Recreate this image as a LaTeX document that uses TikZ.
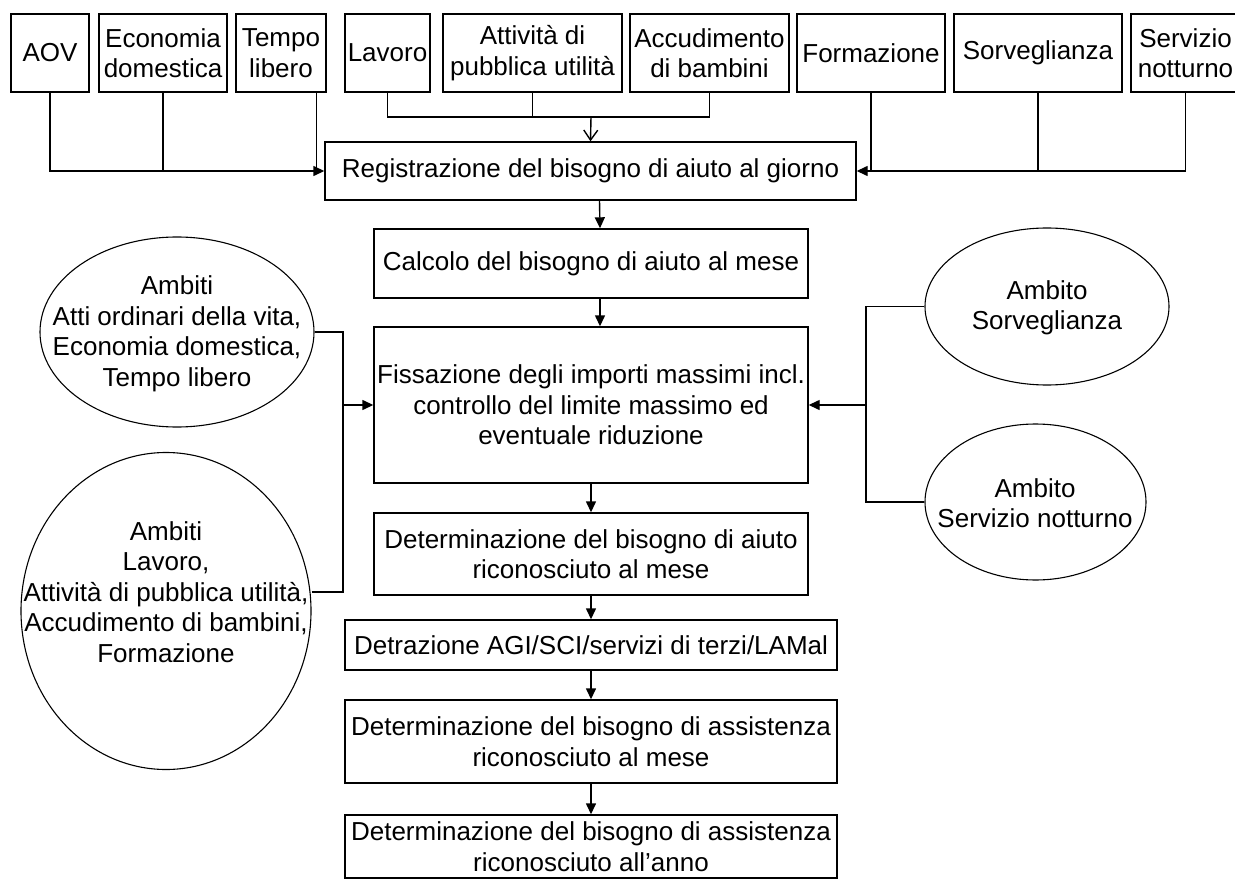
\documentclass[tikz,border=0pt]{standalone}
\usepackage{fontspec}
\setmainfont{Liberation Sans}
\usetikzlibrary{shapes.geometric,arrows.meta}

\begin{document}
\begin{tikzpicture}[x=1pt,y=-1pt,line width=1.4pt,
    font=\fontsize{26}{30.5}\selectfont,
    boite/.style={draw,rectangle,inner sep=0pt,align=center},
    haut/.style={boite,minimum height=78pt},
    ambito/.style={draw,ellipse,inner sep=0pt,line width=1.1pt},
    texte/.style={align=center,inner sep=0pt},
    fleche/.style={-{Triangle[length=11pt,width=10pt]}},
    ouverte/.style={-{Straight Barb[length=10pt,width=14pt]}}]

    \useasboundingbox (0,0) rectangle (1235,880);

    % Domaines (ligne du haut)
    \node[haut,minimum width=78pt] (aov) at (50,53) {AOV};
    \node[haut,minimum width=128pt] (eco) at (163,53) {Economia\\domestica};
    \node[haut,minimum width=90pt] (tempo) at (281,53) {Tempo\\libero};
    \node[haut,minimum width=85pt] (lav) at (387.5,53) {Lavoro};
    \node[haut,minimum width=179pt] (att) at (532.5,53) {Attività di\\pubblica utilità};
    \node[haut,minimum width=159pt] (acc) at (709.5,53) {Accudimento\\di bambini};
    \node[haut,minimum width=148pt] (form) at (871,53) {Formazione};
    \node[haut,minimum width=168pt] (sorv) at (1038,53) {Sorveglianza};
    \node[haut,minimum width=109pt] (serv) at (1185.5,53) {Servizio\\notturno};

    % Etapes du calcul
    \node[boite,minimum width=531pt,minimum height=58pt] (reg) at (590.5,171) {Registrazione del bisogno di aiuto al giorno};
    \node[boite,minimum width=434pt,minimum height=69pt] (calc) at (591,263.5) {Calcolo del bisogno di aiuto al mese};
    \node[boite,minimum width=434pt,minimum height=156pt] (fiss) at (591,405) {Fissazione degli importi massimi incl.\\controllo del limite massimo ed\\eventuale riduzione};
    \node[boite,minimum width=434pt,minimum height=82pt] (detA) at (591,554) {Determinazione del bisogno di aiuto\\riconosciuto al mese};
    \node[boite,minimum width=492pt,minimum height=50pt] (detr) at (591,645) {Detrazione AGI/SCI/servizi di terzi/LAMal};
    \node[boite,minimum width=492pt,minimum height=83pt] (assM) at (591,741.5) {Determinazione del bisogno di assistenza\\riconosciuto al mese};
    \node[boite,minimum width=492pt,minimum height=63pt] (assA) at (591,846.5) {Determinazione del bisogno di assistenza\\riconosciuto all’anno};

    % Ambiti
    \node[ambito,minimum width=274pt,minimum height=190pt] (ambA) at (177,332) {};
    \node[texte] (ambAt) at (177,334) {Ambiti\\Atti ordinari della vita,\\Economia domestica,\\Tempo libero};
    \node[ambito,minimum width=290pt,minimum height=317pt] (ambB) at (166,611) {};
    \node[texte] (ambBt) at (166,592) {Ambiti\\Lavoro,\\Attività di pubblica utilità,\\Accudimento di bambini,\\Formazione};
    \node[ambito,minimum width=244pt,minimum height=157pt] (ambS) at (1047,306.5) {};
    \node[texte] (ambSt) at (1047,308) {Ambito\\Sorveglianza};
    \node[ambito,minimum width=221pt,minimum height=156pt] (ambN) at (1035.5,502) {};
    \node[texte] (ambNt) at (1035,503) {Ambito\\Servizio notturno};

    % Ligne du haut vers la registrazione
    \coordinate (tl) at ([xshift=-10pt]tempo.south east);
    \draw[fleche] (aov.south) |- (reg.west);
    \draw (eco.south) -- (eco.south |- reg.west);
    \draw (tl) -- (tl |- reg.west);
    \coordinate (jT) at (591,117);
    \draw (lav.south) |- (jT) -| (acc.south);
    \draw (att.south) -- (att.south |- jT);
    \draw[ouverte] (jT) -- (reg.north);
    \draw[fleche] (serv.south) |- (reg.east);
    \draw (form.south) -- (form.south |- reg.east);
    \draw (sorv.south) -- (sorv.south |- reg.east);

    % Chaine centrale
    \draw[fleche] ([xshift=9pt]reg.south) -- ([xshift=9pt]calc.north);
    \draw[fleche] ([xshift=9pt]calc.south) -- ([xshift=9pt]fiss.north);
    \foreach \a/\b in {fiss/detA,detA/detr,detr/assM,assM/assA}
        \draw[fleche] (\a.south) -- (\b.north);

    % Ambiti vers la fissazione
    \coordinate (jL) at (343,405);
    \draw (ambA.east) -| (jL);
    \draw (ambB.east |- ambBt.center) -| (jL);
    \draw[fleche] (jL) -- (fiss.west);
    \coordinate (jR) at (866,405);
    \draw (ambS.west) -| (jR);
    \draw (ambN.west) -| (jR);
    \draw[fleche] (jR) -- (fiss.east);
\end{tikzpicture}
\end{document}
